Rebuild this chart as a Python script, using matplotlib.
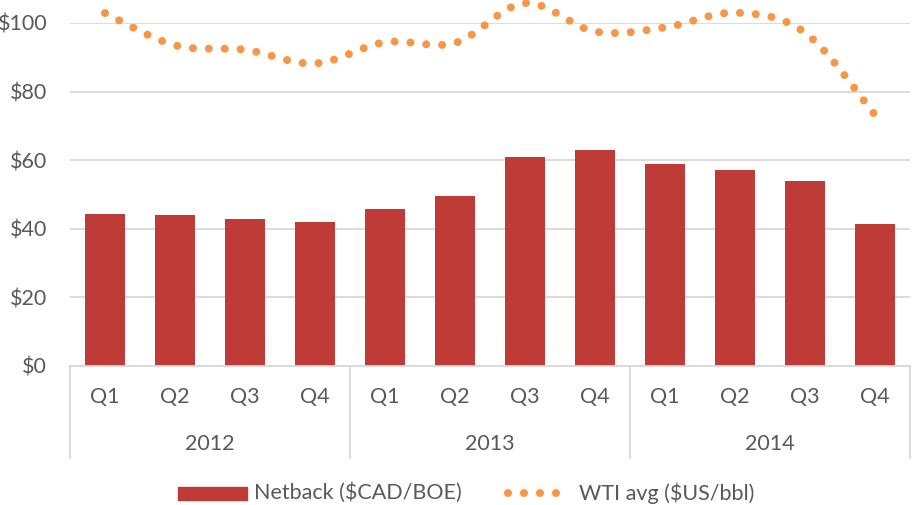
import numpy as np
import matplotlib
matplotlib.use('Agg')
import matplotlib.pyplot as plt
from matplotlib.patches import Rectangle
from matplotlib.lines import Line2D

# quarterly data
quarters = ['Q1', 'Q2', 'Q3', 'Q4'] * 3
years = ['2012', '2013', '2014']
netback = [44.2, 43.9, 42.9, 42.0, 45.7, 49.6, 60.8, 62.9, 58.8, 57.1, 53.9, 41.4]
wti = [102.9, 93.5, 92.2, 88.2, 94.4, 94.2, 105.8, 97.5, 98.7, 103.0, 97.2, 73.2]

bar_color = '#be3b37'
line_color = '#f79646'
text_color = '#595959'
grid_color = '#d9d9d9'
fs = 15.5
dot_lw = 5.76  # points, ~8px at 100 dpi

plt.rcParams['font.family'] = ['Lato', 'DejaVu Sans']


def smooth(xs, ys, n=30):
    # excel-like smoothed line: bezier segments with catmull-rom control points
    xs = np.asarray(xs, float)
    ys = np.asarray(ys, float)
    px = np.concatenate([[xs[0]], xs, [xs[-1]]])
    py = np.concatenate([[ys[0]], ys, [ys[-1]]])
    out_x, out_y = [], []
    t = np.linspace(0, 1, n, endpoint=False)
    for i in range(1, len(px) - 2):
        p0 = np.array([px[i], py[i]])
        p3 = np.array([px[i + 1], py[i + 1]])
        c1 = p0 + (np.array([px[i + 1], py[i + 1]]) - np.array([px[i - 1], py[i - 1]])) / 6
        c2 = p3 - (np.array([px[i + 2], py[i + 2]]) - np.array([px[i], py[i]])) / 6
        for tt in t:
            b = ((1 - tt) ** 3 * p0 + 3 * (1 - tt) ** 2 * tt * c1
                 + 3 * (1 - tt) * tt ** 2 * c2 + tt ** 3 * p3)
            out_x.append(b[0])
            out_y.append(b[1])
    out_x.append(xs[-1])
    out_y.append(ys[-1])
    return np.array(out_x), np.array(out_y)


W, H = 914, 505
fig = plt.figure(figsize=(W / 100, H / 100), dpi=100)
ax = fig.add_axes([70 / W, (H - 366) / H, 840 / W, 343 / H])

x = np.arange(len(netback))
ax.bar(x, netback, width=0.56, color=bar_color, zorder=2)

ax.set_xlim(-0.5, len(netback) - 0.5)
ax.set_ylim(0, 100)

# squeeze the dot gap a little so a dot sits on both ends of the curve
sx, sy = smooth(x, wti)
disp = ax.transData.transform(np.column_stack([sx, sy]))
length = np.sum(np.hypot(*np.diff(disp, axis=0).T))
lw_px = dot_lw * fig.dpi / 72
n_gaps = round(length / (2 * lw_px))
gap = 0.997 * length / n_gaps / lw_px
ax.plot(sx, sy, color=line_color, lw=dot_lw, linestyle=(0, (0.001, gap - 0.001)),
        dash_capstyle='round', clip_on=False, zorder=3)

ax.set_yticks(range(0, 101, 20))
ax.set_yticklabels(['$%d' % v for v in range(0, 101, 20)])
ax.yaxis.grid(True, color=grid_color, lw=1.3, zorder=0)
ax.tick_params(axis='y', length=0, pad=16.5, labelsize=fs, labelcolor=text_color)
ax.set_xticks([])
for s in ['top', 'right', 'left']:
    ax.spines[s].set_visible(False)
ax.spines['bottom'].set_color(grid_color)
ax.spines['bottom'].set_linewidth(1.3)

# two level category axis
trans = ax.get_xaxis_transform()
for i, q in enumerate(quarters):
    ax.text(i, -31 / 343, q, transform=trans, ha='center', va='center',
            fontsize=fs, color=text_color)
for j, yr in enumerate(years):
    ax.text(j * 4 + 1.5, -78 / 343, yr, transform=trans, ha='center', va='center',
            fontsize=fs, color=text_color)
for k in range(len(years) + 1):
    ax.plot([k * 4 - 0.5] * 2, [0, -92 / 343], transform=trans, color=grid_color,
            lw=1.3, clip_on=False)

# legend, drawn by hand
fig.add_artist(Rectangle((178 / W, (H - 500) / H), 69 / W, 13 / H,
                         transform=fig.transFigure, color=bar_color))
fig.text(254 / W, (H - 493) / H, 'Netback ($CAD/BOE)', ha='left', va='center',
         fontsize=fs, color=text_color)
fig.add_artist(Line2D([508 / W, 557 / W], [(H - 493) / H] * 2, transform=fig.transFigure,
                      color=line_color, lw=dot_lw, linestyle=(0, (0.001, 1.999)),
                      dash_capstyle='round'))
fig.text(579 / W, (H - 493) / H, 'WTI avg ($US/bbl)', ha='left', va='center',
         fontsize=fs, color=text_color)

fig.savefig('out.png', dpi=100)
